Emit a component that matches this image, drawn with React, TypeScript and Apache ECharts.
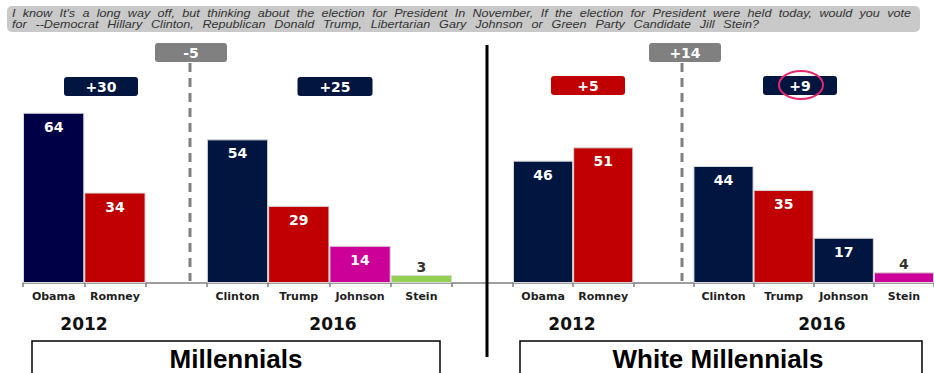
import React, { useEffect, useRef } from 'react';
import * as echarts from 'echarts';

const candidates = ['Obama', 'Romney', '', 'Clinton', 'Trump', 'Johnson', 'Stein'];
const millennialsValues = [64, 34, null, 54, 29, 14, 3];
const whiteMillennialsValues = [46, 51, null, 44, 35, 17, 4];
const years = ['2012', '2016'];
const millennialsMargins = ['+30', '+25'];
const whiteMillennialsMargins = ['+5', '+9'];
const millennialsShift = '-5';
const whiteMillennialsShift = '+14';
const panelTitles = ['Millennials', 'White Millennials'];
const questionLines = [
  "I know It's a long way off, but thinking about the election for President In November, If the election for President were held today, would you vote",
  'for --Democrat Hillary Clinton, Republican Donald Trump, Libertarian Gary Johnson or Green Party Candidate Jill Stein?',
];

const NAVY = '#001641';
const DEEP = '#000046';
const RED = '#c00000';
const MAG = '#cc0099';
const GREEN = '#92d050';
const GRAY = '#7f7f7f';
const leftColors = [DEEP, RED, null, NAVY, RED, MAG, GREEN];
const rightColors = [NAVY, RED, null, NAVY, RED, NAVY, MAG];

const FONT = '"DejaVu Sans", Verdana, sans-serif';

function seriesData(values: (number | null)[], colors: (string | null)[]) {
  return values.map((v, i) => {
    if (v == null) return '-';
    const d: any = { value: v, itemStyle: { color: colors[i] } };
    if (v < 10) d.label = { position: 'top', color: '#333', distance: 1 };
    return d;
  });
}

function justifiedWords(line: string, x0: number, x1: number, y: number, font: string, sx: number) {
  const words = line.split(/\s+/);
  const canvas = document.createElement('canvas');
  const ctx = canvas.getContext('2d')!;
  ctx.font = font;
  const widths = words.map((w) => ctx.measureText(w).width * sx);
  const total = widths.reduce((a, b) => a + b, 0);
  const gap = (x1 - x0 - total) / (words.length - 1);
  let x = x0;
  return words.map((w, i) => {
    const el = {
      type: 'text',
      x,
      y,
      scaleX: sx,
      z: 10,
      style: { text: w, font, fill: '#333', align: 'left', verticalAlign: 'middle' },
    };
    x += widths[i] + gap;
    return el;
  });
}

function diffBox(cx: number, y: number, w: number, h: number, label: string, fill: string) {
  return [
    { type: 'rect', z: 10, shape: { x: cx - w / 2, y, width: w, height: h, r: 3 }, style: { fill } },
    {
      type: 'text', z: 11, x: cx, y: y + h / 2,
      style: { text: label, fill: '#ffffff', font: `bold 14px ${FONT}`, align: 'center', verticalAlign: 'middle' },
    },
  ];
}

export default function App() {
  const ref = useRef<HTMLDivElement>(null);
  useEffect(() => {
    document.body.style.margin = '0';
    const chart = echarts.init(ref.current!, undefined, { renderer: 'svg' });
    const bannerFont = 'italic 10.5px "Liberation Sans", Arial, sans-serif';

    const xAxisBase = (gridIndex: number) => ({
      type: 'category',
      gridIndex,
      data: candidates,
      axisLine: { show: true, lineStyle: { color: GRAY, width: 1.5 } },
      axisTick: { show: true, length: 4, lineStyle: { color: GRAY, width: 1.5 } },
      axisLabel: { interval: 0, margin: 8, fontSize: 11, fontWeight: 'bold', color: '#1f1f1f', fontFamily: FONT },
    });
    const seriesBase = (idx: number, data: any[]) => ({
      type: 'bar',
      xAxisIndex: idx,
      yAxisIndex: idx,
      data,
      barCategoryGap: '0%',
      itemStyle: { borderColor: '#d9d9d9', borderWidth: 1 },
      label: {
        show: true, position: 'insideTop', distance: 7, color: '#ffffff',
        fontFamily: FONT, fontWeight: 'bold', fontSize: 14,
      },
    });

    const titleFont = 'bold 26px "Liberation Sans", Arial, sans-serif';
    const graphic: any[] = [
      { type: 'rect', z: 5, shape: { x: 7, y: 6, width: 913, height: 26, r: 5 }, style: { fill: '#c9c9c9' } },
      ...justifiedWords(questionLines[0], 12, 911, 13.5, bannerFont, 1.2),
      ...justifiedWords(questionLines[1], 12, 759, 24.5, bannerFont, 1.2),
      { type: 'line', z: 5, shape: { x1: 452, y1: 283, x2: 513, y2: 283 }, style: { stroke: GRAY, lineWidth: 1.5 } },
      { type: 'line', z: 6, shape: { x1: 487, y1: 45, x2: 487, y2: 357 }, style: { stroke: '#000', lineWidth: 3 } },
      { type: 'line', z: 4, shape: { x1: 190, y1: 63, x2: 190, y2: 281 }, style: { stroke: '#808080', lineWidth: 3, lineDash: [9, 6] } },
      { type: 'line', z: 4, shape: { x1: 682, y1: 63, x2: 682, y2: 281 }, style: { stroke: '#808080', lineWidth: 3, lineDash: [9, 6] } },
      ...diffBox(191, 43, 72, 19, millennialsShift, '#808080'),
      ...diffBox(101, 77, 74, 19, millennialsMargins[0], NAVY),
      ...diffBox(335, 77, 75, 19, millennialsMargins[1], NAVY),
      ...diffBox(685, 43, 72, 19, whiteMillennialsShift, '#808080'),
      ...diffBox(588, 76, 74, 19, whiteMillennialsMargins[0], RED),
      ...diffBox(800, 76, 74, 19, whiteMillennialsMargins[1], NAVY),
      { type: 'ellipse', z: 12, shape: { cx: 801, cy: 85, rx: 22, ry: 14 }, style: { fill: 'none', stroke: '#e8266c', lineWidth: 2 } },
      ...[
        [84, years[0]], [333, years[1]], [572, years[0]], [822, years[1]],
      ].map(([x, t]) => ({
        type: 'text', z: 10, x, y: 324,
        style: { text: t, fill: '#111', font: `bold 17px ${FONT}`, align: 'center', verticalAlign: 'middle' },
      })),
      { type: 'rect', z: 5, shape: { x: 32, y: 341, width: 408, height: 50 }, style: { fill: 'none', stroke: '#000', lineWidth: 1.5 } },
      { type: 'rect', z: 5, shape: { x: 520, y: 341, width: 402, height: 50 }, style: { fill: 'none', stroke: '#000', lineWidth: 1.5 } },
      { type: 'text', z: 10, x: 236, y: 359, style: { text: panelTitles[0], fill: '#000', font: titleFont, align: 'center', verticalAlign: 'middle' } },
      { type: 'text', z: 10, x: 718, y: 359, style: { text: panelTitles[1], fill: '#000', font: titleFont, align: 'center', verticalAlign: 'middle' } },
    ];

    chart.setOption({
      animation: false,
      backgroundColor: '#ffffff',
      grid: [
        { left: 23, top: 17, width: 429, height: 266 },
        { left: 513, top: 17, width: 430, height: 266 },
      ],
      xAxis: [xAxisBase(0), xAxisBase(1)],
      yAxis: [
        { type: 'value', gridIndex: 0, min: 0, max: 100, show: false },
        { type: 'value', gridIndex: 1, min: 0, max: 100, show: false },
      ],
      series: [
        seriesBase(0, seriesData(millennialsValues, leftColors)),
        seriesBase(1, seriesData(whiteMillennialsValues, rightColors)),
      ],
      graphic,
    });
    return () => chart.dispose();
  }, []);
  return <div ref={ref} style={{ position: 'fixed', left: 0, top: 0, width: 934, height: 373 }} />;
}
